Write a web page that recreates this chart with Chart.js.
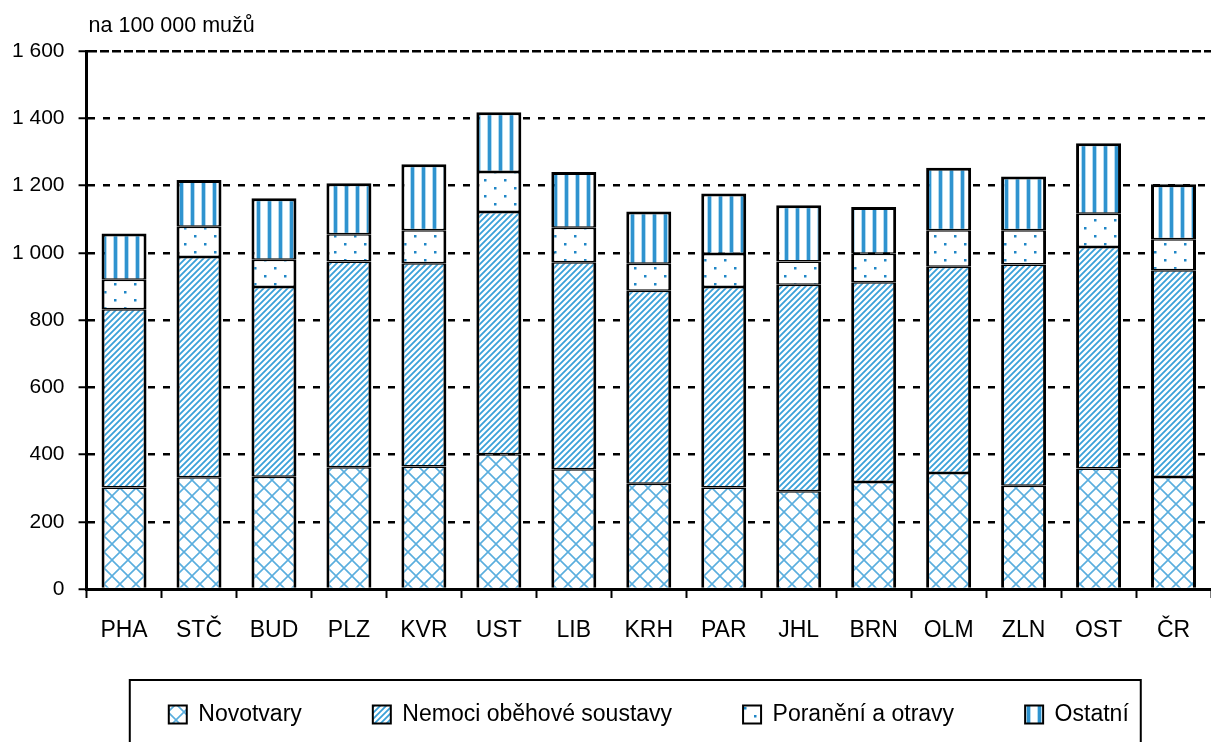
<!DOCTYPE html>
<html>
<head>
<meta charset="utf-8">
<script src="https://cdn.jsdelivr.net/npm/chart.js@4/dist/chart.umd.min.js"></script>
<style>
  body { margin: 0; background: #fff; }
</style>
</head>
<body>
<canvas id="chart" width="1211" height="742"></canvas>
<script>
// regions (kraje) and the four cause groups, per 100 000 men
const regions = ['PHA', 'STČ', 'BUD', 'PLZ', 'KVR', 'UST', 'LIB', 'KRH', 'PAR', 'JHL', 'BRN', 'OLM', 'ZLN', 'OST', 'ČR'];
const novotvary = [302, 332, 334, 362, 364, 401, 356, 313, 302, 291, 318, 345, 307, 358, 333];
const nemoci    = [530, 655, 564, 612, 605, 720, 616, 574, 596, 614, 594, 613, 658, 659, 615];
const poraneni  = [88, 90, 81, 81, 98, 119, 102, 80, 98, 69, 85, 109, 102, 99, 92];
const ostatni   = [137, 139, 183, 152, 196, 178, 166, 156, 180, 167, 139, 186, 160, 210, 164];
const seriesNames = ['Novotvary', 'Nemoci oběhové soustavy', 'Poranění a otravy', 'Ostatní'];
const yTicks = [0, 200, 400, 600, 800, 1000, 1200, 1400, 1600];
const unitLabel = 'na 100 000 mužů';

Chart.defaults.font.family = "'Liberation Sans', Arial, sans-serif";
Chart.defaults.color = '#000';

// small tiles used as fill patterns
function makePattern(w, h, draw) {
  const c = document.createElement('canvas');
  c.width = w;
  c.height = h;
  const g = c.getContext('2d');
  g.fillStyle = '#fff';
  g.fillRect(0, 0, w, h);
  draw(g, w, h);
  return g.createPattern(c, 'repeat');
}

const crossHatch = makePattern(16, 16, (g, w, h) => {
  g.strokeStyle = '#5aaede';
  g.lineWidth = 1.6;
  g.beginPath();
  g.moveTo(0, 0); g.lineTo(w, h);
  g.moveTo(0, h); g.lineTo(w, 0);
  g.stroke();
});

const diagonal = makePattern(6, 6, (g, w, h) => {
  g.strokeStyle = '#3aa0d8';
  g.lineWidth = 1.8;
  g.beginPath();
  g.moveTo(0, h); g.lineTo(w, 0);
  g.moveTo(-1, 1); g.lineTo(1, -1);
  g.moveTo(w - 1, h + 1); g.lineTo(w + 1, h - 1);
  g.stroke();
});

const dots = makePattern(20, 16, (g) => {
  g.fillStyle = '#1f86c6';
  g.fillRect(4, 3, 2.5, 2.5);
  g.fillRect(14, 11, 2.5, 2.5);
});

const vertical = makePattern(11, 10, (g) => {
  g.fillStyle = '#b3daf0';
  g.fillRect(3, 0, 5, 10);
  g.fillStyle = '#2f93cf';
  g.fillRect(4, 0, 3, 10);
});

function fmt(v) {
  return String(v).replace(/\B(?=(\d{3})+$)/g, ' ');
}

const sideBorder = 3;

const unitTitle = {
  id: 'unitTitle',
  afterDraw(chart) {
    const { ctx, chartArea } = chart;
    ctx.save();
    ctx.font = "21.5px 'Liberation Sans', Arial, sans-serif";
    ctx.fillStyle = '#000';
    ctx.textBaseline = 'middle';
    ctx.fillText(unitLabel, chartArea.left + 2, 26);
    ctx.restore();
  }
};

const legendFrame = {
  id: 'legendFrame',
  afterDraw(chart) {
    const hb = chart.legend.legendHitBoxes;
    if (!hb || !hb.length) return;
    const last = hb[hb.length - 1];
    const left = hb[0].left - 39;
    const right = last.left + last.width + 12;
    const top = hb[0].top - 23;
    const ctx = chart.ctx;
    ctx.save();
    ctx.strokeStyle = '#000';
    ctx.lineWidth = 2;
    ctx.strokeRect(left, top, right - left, 120);
    ctx.restore();
  }
};

new Chart(document.getElementById('chart'), {
  type: 'bar',
  data: {
    labels: regions,
    datasets: [
      { label: seriesNames[0], data: novotvary, backgroundColor: crossHatch,
        borderWidth: { left: sideBorder, right: sideBorder, top: 1.5, bottom: 0 } },
      { label: seriesNames[1], data: nemoci, backgroundColor: diagonal,
        borderWidth: { left: sideBorder, right: sideBorder, top: 1.5, bottom: 1.5 } },
      { label: seriesNames[2], data: poraneni, backgroundColor: dots,
        borderWidth: { left: sideBorder, right: sideBorder, top: 1.5, bottom: 1.5 } },
      { label: seriesNames[3], data: ostatni, backgroundColor: vertical,
        borderWidth: { left: sideBorder, right: sideBorder, top: 3, bottom: 1.5 } }
    ].map(ds => Object.assign(ds, {
      borderColor: '#000',
      borderSkipped: false,
      barPercentage: 0.6,
      categoryPercentage: 1
    }))
  },
  options: {
    responsive: false,
    animation: false,
    layout: { padding: { top: 51, left: -2, right: -7, bottom: 6 } },
    scales: {
      x: {
        stacked: true,
        afterFit: (axis) => {
          // keep the legend close under the axis; labels may overhang
          axis.height = 43;
          axis._computeLabelArea = () => null;
        },
        grid: {
          offset: true,
          drawOnChartArea: false,
          drawTicks: true,
          tickLength: 9,
          tickWidth: 2,
          tickColor: '#000'
        },
        border: { color: '#000', width: 3 },
        ticks: {
          font: { size: 23 },
          padding: 19,
          maxRotation: 0,
          autoSkip: false
        }
      },
      y: {
        stacked: true,
        min: 0,
        max: 1600,
        afterBuildTicks: (axis) => { axis.ticks = yTicks.map(v => ({ value: v })); },
        grid: {
          color: (c) => (c.tick && c.tick.value === 0 ? 'rgba(0,0,0,0)' : '#000'),
          lineWidth: 2.5,
          tickLength: 8,
          tickWidth: 2,
          tickColor: '#000'
        },
        border: {
          color: '#000',
          width: 3,
          dash: (c) => (c.tick && c.tick.value === 1600 ? [9, 3] : [7, 8])
        },
        ticks: {
          font: { size: 21 },
          padding: 14,
          callback: (v) => fmt(v)
        }
      }
    },
    plugins: {
      tooltip: { enabled: false },
      legend: {
        position: 'bottom',
        fullSize: false,
        labels: {
          font: { size: 23 },
          boxWidth: 18,
          boxHeight: 18,
          padding: 71,
          generateLabels: (chart) => {
            const items = Chart.defaults.plugins.legend.labels.generateLabels(chart);
            items.forEach(it => { it.lineWidth = 2; it.strokeStyle = '#000'; });
            return items;
          }
        }
      }
    }
  },
  plugins: [unitTitle, legendFrame]
});
</script>
</body>
</html>
